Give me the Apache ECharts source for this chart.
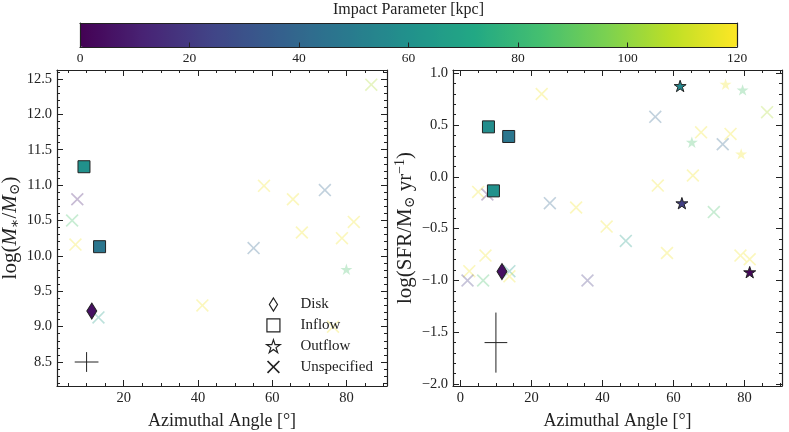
<!DOCTYPE html>
<html>
<head>
<meta charset="utf-8"/>
<script src="https://cdn.jsdelivr.net/npm/echarts@6/dist/echarts.min.js"></script>
</head>
<body style="margin:0">
<div id="main" style="width:789px;height:432px;"></div>
<script type="text/javascript">
    // ---- left panel: azimuthal angle vs log stellar mass ----
    var diskAngL = [11.4], diskMassL = [9.22], diskImpL = [5];
    var inflowAngL = [9.3, 13.5], inflowMassL = [11.26, 10.13], inflowImpL = [60, 47];
    var outfAngL = [80.0], outfMassL = [9.81], outfImpL = [85];
    var unspAngL  = [7.5, 6.1, 7.0, 13.2, 55.0, 41.2, 76.4, 78.8, 57.8, 65.6, 68.0, 74.2, 82.0, 86.7];
    var unspMassL = [10.80, 10.50, 10.16, 9.13, 10.11, 9.30, 9.00, 10.25, 10.99, 10.80, 10.33, 10.93, 10.48, 12.42];
    var unspImpL  = [10, 85, 118, 65, 40, 118, 118, 118, 118, 118, 118, 40, 118, 105];

    // ---- right panel: azimuthal angle vs log SFR ----
    var diskAngR = [11.7], diskSfrR = [-0.914], diskImpR = [5];
    var inflowAngR = [7.9, 13.6, 9.3], inflowSfrR = [0.483, 0.39, -0.135], inflowImpR = [58, 47, 60];
    var outfAngR = [61.9, 62.4, 81.5], outfSfrR = [0.878, -0.254, -0.92], outfImpR = [55, 22, 2];
    var outfFadeAngR = [74.7, 79.5, 65.2, 79.1], outfFadeSfrR = [0.895, 0.84, 0.335, 0.222], outfFadeImpR = [118, 85, 85, 118];
    var unspAngR = [86.4, 22.9, 54.9, 67.8, 76.1, 73.9, 65.5, 55.6, 5.0, 7.6, 25.2, 32.6, 71.4, 41.2, 46.6, 58.2, 7.06, 78.9, 81.5, 2.5, 2.0, 6.4, 13.8, 13.8, 35.8];
    var unspSfrR = [0.625, 0.80, 0.58, 0.43, 0.415, 0.315, 0.013, -0.084, -0.145, -0.17, -0.254, -0.296, -0.34, -0.48, -0.618, -0.735, -0.76, -0.76, -0.795, -0.91, -1.0, -1.0, -0.91, -0.96, -1.0];
    var unspImpR = [105, 118, 40, 118, 118, 40, 118, 118, 118, 10, 40, 118, 85, 118, 65, 118, 118, 118, 118, 118, 20, 85, 65, 118, 20];

    // typical error bars [x, y, xerr, yerr]
    var errL = [[10, 8.5, 3.2, 0.14]];
    var errR = [[10, -1.6, 3.2, 0.29]];

    // tick labels
    var xTicksL = [20, 40, 60, 80];
    var xTicksR = [0, 20, 40, 60, 80];
    var yTicksL = [8.5, 9.0, 9.5, 10.0, 10.5, 11.0, 11.5, 12.0, 12.5];
    var yTicksR = [-2.0, -1.5, -1.0, -0.5, 0.0, 0.5, 1.0];
    var cbTicks = [0, 20, 40, 60, 80, 100, 120];

    var viridis = ['#440154', '#482475', '#414487', '#355f8d', '#2a788e', '#21918c',
                   '#22a884', '#44bf70', '#7ad151', '#bddf26', '#fde725'];

    var ink = '#222';
    var serif = "'Liberation Serif', 'DejaVu Serif', serif";
    var xPath = 'path://M0,9 L9,0 L50,41 L91,0 L100,9 L59,50 L100,91 L91,100 L50,59 L9,100 L0,91 L41,50 Z';
    var starPath = 'path://M50,0 L61.23,34.55 L97.55,34.55 L68.17,55.9 L79.39,90.45 L50,69.1 L20.61,90.45 L31.83,55.9 L2.45,34.55 L38.77,34.55 Z';
    var thinDiamond = 'path://M5,0 L10,8 L5,16 L0,8 Z';
    var squarePath = 'path://M0,0 L10,0 L10,10 L0,10 Z';

    function pts(xs, ys, bs) {
        return xs.map(function (x, i) { return [x, ys[i], bs[i]]; });
    }
    function minors(lo, hi, step, majors) {
        var out = [];
        for (var v = lo; v <= hi + 1e-9; v += step) {
            var r = Math.round(v * 1000) / 1000;
            if (majors.indexOf(r) < 0) out.push(r);
        }
        return out;
    }

    function axis(grid, pos, min, max, ticks, len, labels, fmt) {
        return {
            type: 'value', gridIndex: grid, position: pos, min: min, max: max,
            splitLine: { show: false },
            axisLine: { show: len > 4, onZero: false, lineStyle: { color: ink, width: 1.2 } },
            axisTick: { show: true, inside: true, length: len, customValues: ticks, lineStyle: { color: ink, width: 1 } },
            axisLabel: labels ? {
                show: true, customValues: ticks, margin: 5, color: ink,
                fontFamily: serif, fontSize: 14.5, formatter: fmt
            } : { show: false }
        };
    }
    var fmtInt = function (v) { return String(Math.round(v)); };
    var fmtOne = function (v) { return v.toFixed(1).replace('-', '\u2212'); };

    var xMinL = minors(5, 90, 5, xTicksL), xMinR = minors(5, 90, 5, xTicksR);
    var yMinL = minors(8.2, 12.6, 0.1, yTicksL), yMinR = minors(-2.0, 1.0, 0.1, yTicksR);

    var xAxes = [
        axis(0, 'bottom', 2.03, 90.94, xTicksL, 6, true, fmtInt),
        axis(0, 'bottom', 2.03, 90.94, xMinL, 3, false),
        axis(0, 'top', 2.03, 90.94, xTicksL, 6, false),
        axis(0, 'top', 2.03, 90.94, xMinL, 3, false),
        axis(1, 'bottom', -2.09, 90.6, xTicksR, 6, true, fmtInt),
        axis(1, 'bottom', -2.09, 90.6, xMinR, 3, false),
        axis(1, 'top', -2.09, 90.6, xTicksR, 6, false),
        axis(1, 'top', -2.09, 90.6, xMinR, 3, false),
        axis(2, 'bottom', 0, 120, cbTicks, 4.5, true, fmtInt),
        axis(2, 'top', 0, 120, [], 5, false)
    ];
    var nameStyle = { fontFamily: serif, fontSize: 18, color: ink };
    xAxes[0].name = 'Azimuthal Angle [\u00b0]';
    xAxes[4].name = 'Azimuthal Angle [\u00b0]';
    [0, 4].forEach(function (i) {
        xAxes[i].nameLocation = 'middle';
        xAxes[i].nameGap = 26;
        xAxes[i].nameTextStyle = nameStyle;
    });
    xAxes[9].name = 'Impact Parameter [kpc]';
    xAxes[9].nameLocation = 'middle';
    xAxes[9].nameGap = 5;
    xAxes[9].nameTextStyle = { fontFamily: serif, fontSize: 16, color: ink };
    xAxes[8].axisTick.customValues = [20, 40, 60, 80, 100];
    xAxes[8].axisLabel.margin = 4;
    xAxes[8].axisLabel.fontSize = 13.5;
    xAxes[8].z = 6; xAxes[9].z = 6;

    var yAxes = [
        axis(0, 'left', 8.161, 12.627, yTicksL, 6, true, fmtOne),
        axis(0, 'left', 8.161, 12.627, yMinL, 3, false),
        axis(0, 'right', 8.161, 12.627, yTicksL, 6, false),
        axis(0, 'right', 8.161, 12.627, yMinL, 3, false),
        axis(1, 'left', -2.019, 1.032, yTicksR, 6, true, fmtOne),
        axis(1, 'left', -2.019, 1.032, yMinR, 3, false),
        axis(1, 'right', -2.019, 1.032, yTicksR, 6, false),
        axis(1, 'right', -2.019, 1.032, yMinR, 3, false),
        axis(2, 'left', 0, 1, [], 5, false),
        axis(2, 'right', 0, 1, [], 5, false)
    ];
    yAxes[8].z = 6; yAxes[9].z = 6;
    yAxes[0].name = 'log({i|M}{sub|\u2217}/{i|M}{sub|\u2299})';
    yAxes[0].nameGap = 30;
    yAxes[4].name = 'log(SFR/M{sub|\u2299} yr{sup|\u22121})';
    yAxes[4].nameGap = 36;
    [[0, 21], [4, 21]].forEach(function (p) {
        var i = p[0], fs = p[1];
        yAxes[i].nameLocation = 'middle';
        yAxes[i].nameTextStyle = {
            fontFamily: serif, fontSize: fs, color: ink,
            rich: {
                i: { fontFamily: serif, fontSize: fs, fontStyle: 'italic', color: ink },
                sub: { fontFamily: serif, fontSize: 14, color: ink, padding: [10, 0, 0, 0] },
                sup: { fontFamily: serif, fontSize: 14, color: ink, padding: [0, 0, 10, 0] }
            }
        };
    });

    var solidEdge = { borderColor: ink, borderWidth: 1, opacity: 1 };
    var fade = { opacity: 0.3 };

    function scatter(name, grid, data, symbol, size, style, z) {
        return {
            name: name, type: 'scatter', xAxisIndex: grid * 4, yAxisIndex: grid * 4,
            data: data, symbol: symbol, symbolSize: size, symbolKeepAspect: true,
            itemStyle: style, z: z, emphasis: { disabled: true }
        };
    }

    function errorCross(params, api) {
        var x = api.value(0), y = api.value(1), dx = api.value(2), dy = api.value(3);
        var l = api.coord([x - dx, y]), r = api.coord([x + dx, y]);
        var t = api.coord([x, y + dy]), b = api.coord([x, y - dy]);
        return {
            type: 'group', children: [
                { type: 'line', shape: { x1: l[0], y1: l[1], x2: r[0], y2: r[1] }, style: { stroke: ink, lineWidth: 1 } },
                { type: 'line', shape: { x1: t[0], y1: t[1], x2: b[0], y2: b[1] }, style: { stroke: ink, lineWidth: 1 } }
            ]
        };
    }

    var series = [
        scatter('Unspecified', 0, pts(unspAngL, unspMassL, unspImpL), xPath, 13, fade, 2),
        scatter('Outflow', 0, pts(outfAngL, outfMassL, outfImpL), starPath, 12, fade, 2),
        scatter('Inflow', 0, pts(inflowAngL, inflowMassL, inflowImpL), 'rect', 12, solidEdge, 3),
        scatter('Disk', 0, pts(diskAngL, diskMassL, diskImpL), 'diamond', [10, 16], solidEdge, 3),
        scatter('Unspecified', 1, pts(unspAngR, unspSfrR, unspImpR), xPath, 13, fade, 2),
        scatter('Outflow', 1, pts(outfFadeAngR, outfFadeSfrR, outfFadeImpR), starPath, 12, fade, 2),
        scatter('Inflow', 1, pts(inflowAngR, inflowSfrR, inflowImpR), 'rect', 12, solidEdge, 3),
        scatter('Outflow', 1, pts(outfAngR, outfSfrR, outfImpR), starPath, 12, solidEdge, 3),
        scatter('Disk', 1, pts(diskAngR, diskSfrR, diskImpR), 'diamond', [10, 16], solidEdge, 3),
        { type: 'custom', xAxisIndex: 0, yAxisIndex: 0, data: errL, renderItem: errorCross, z: 2, silent: true },
        { type: 'custom', xAxisIndex: 4, yAxisIndex: 4, data: errR, renderItem: errorCross, z: 2, silent: true }
    ];

    var legendIcon = { color: '#fff', borderColor: ink, borderWidth: 1.2, opacity: 1 };

    var chart = echarts.init(document.getElementById('main'), null, { renderer: 'canvas' });
    chart.setOption({
        animation: false,
        backgroundColor: '#fff',
        grid: [
            { left: 57, top: 70, width: 330, height: 316, outerBoundsMode: 'none' },
            { left: 453, top: 70, width: 329, height: 316, outerBoundsMode: 'none' },
            { left: 80, top: 23, width: 657, height: 24, outerBoundsMode: 'none' }
        ],
        xAxis: xAxes,
        yAxis: yAxes,
        visualMap: {
            type: 'continuous', min: 0, max: 120, dimension: 2,
            seriesIndex: [0, 1, 2, 3, 4, 5, 6, 7, 8],
            orient: 'horizontal', left: 80, top: 23, padding: 0,
            itemWidth: 24, itemHeight: 657, calculable: false, hoverLink: false,
            inRange: { color: viridis }
        },
        legend: {
            orient: 'vertical', left: 261, top: 292, itemWidth: 44, itemHeight: 13, itemGap: 5.8,
            textStyle: { fontFamily: serif, fontSize: 15, color: ink },
            selectedMode: false,
            data: [
                { name: 'Disk', icon: thinDiamond, itemStyle: legendIcon },
                { name: 'Inflow', icon: squarePath, itemStyle: legendIcon },
                { name: 'Outflow', icon: starPath, itemStyle: legendIcon },
                { name: 'Unspecified', icon: xPath, itemStyle: { color: ink, borderWidth: 0, opacity: 1 } }
            ]
        },
        series: series
    });
</script>
</body>
</html>
